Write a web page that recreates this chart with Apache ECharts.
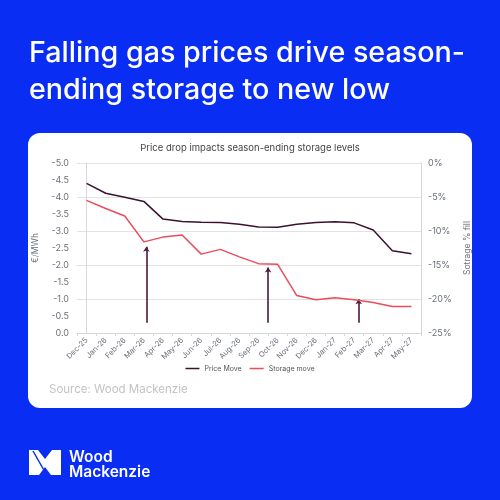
<!DOCTYPE html>
<html>
<head>
<meta charset="utf-8">
<script src="https://cdn.jsdelivr.net/npm/echarts@6/dist/echarts.min.js"></script>
<style>
html,body{margin:0;padding:0;background:#0a2df4;}
#c{width:500px;height:500px;}
</style>
</head>
<body>
<div id="c"></div>
<script>
const categories = ['Dec-25','Jan-26','Feb-26','Mar-26','Apr-26','May-26','Jun-26','Jul-26','Aug-26','Sep-26','Oct-26','Nov-26','Dec-26','Jan-27','Feb-27','Mar-27','Apr-27','May-27'];
const priceMove = [-4.40,-4.11,-3.99,-3.87,-3.35,-3.28,-3.26,-3.25,-3.20,-3.12,-3.11,-3.20,-3.25,-3.27,-3.24,-3.03,-2.42,-2.33];
const storageMove = [-5.5,-6.7,-7.8,-11.6,-10.9,-10.6,-13.4,-12.7,-13.8,-14.8,-14.9,-19.5,-20.1,-19.8,-20.1,-20.5,-21.1,-21.1];
const arrowX = [3.13, 9.5, 14.24];
const arrowFrom = [-0.30, -0.30, -0.30];
const arrowTo = [-2.54, -1.93, -0.99];
const seriesNames = ['Price Move','Storage move'];
const mainTitle = ['Falling gas prices drive season-','ending storage to new low'];
const chartTitle = 'Price drop impacts season-ending storage levels';
const sourceText = 'Source: Wood Mackenzie';

const chart = echarts.init(document.getElementById('c'));
const grey = '#6a6f7a';
chart.setOption({
  backgroundColor: '#0a2df4',
  animation: false,
  textStyle: {fontFamily: 'Inter'},
  graphic: [
    {type:'text', left:29, top:35, style:{text: mainTitle.join('\n'), fill:'#fff', font:'500 28.7px Inter', lineHeight:37}},
    {type:'rect', shape:{x:28, y:133, width:444, height:275, r:12}, style:{fill:'#fff'}, z:-1},
    {type:'text', left:'center', top:143, style:{text: chartTitle, fill:'#444', font:'9.5px Inter'}},
    {type:'text', left:49, top:384, style:{text: sourceText, fill:'#c3c3c3', font:'11.5px Inter'}},
    {type:'polygon', shape:{points:[[29,450],[38,450],[45,459],[52,450],[61,450],[61,475],[51,475],[45,467],[39,475],[29,475]]}, style:{fill:'#fff'}},
    {type:'polyline', shape:{points:[[33,451],[45,472]]}, style:{stroke:'#0a2df4', lineWidth:1.5}},
    {type:'text', left:69, top:449, style:{text:'Wood\nMackenzie', fill:'#fff', font:'600 15.5px Inter', lineHeight:15}}
  ],
  legend: {
    data: seriesNames, bottom: 123, left:'center', icon:'rect', itemWidth:14, itemHeight:1.5, itemGap:8,
    textStyle:{fontSize:7, color:'#555'}
  },
  grid: {left:77, right:79, top:163, bottom:167, containLabel:false},
  xAxis: [
    {type:'category', data:categories, boundaryGap:true,
     axisLine:{lineStyle:{color:'#d8d8d8'}}, axisTick:{show:true, lineStyle:{color:'#d8d8d8'}, length:3},
     axisLabel:{rotate:45, fontSize:7.5, color:grey, margin:6, interval:0}},
    {type:'value', min:-0.5, max:17.5, show:false}
  ],
  yAxis: [
    {type:'value', min:-5, max:0, interval:0.5, inverse:true, name:'€/MWh', nameLocation:'middle', nameGap:25,
     nameTextStyle:{fontSize:8.5, color:grey},
     axisLine:{show:true, lineStyle:{color:'#d8d8d8'}}, axisTick:{show:false}, splitLine:{show:false},
     axisLabel:{fontSize:9, color:grey, margin:8, formatter:v=>v.toFixed(1)}},
    {type:'value', min:-25, max:0, interval:5, position:'right', name:'Sotrage % fill', nameLocation:'middle', nameGap:36,
     nameTextStyle:{fontSize:8.5, color:grey},
     axisLine:{show:true, lineStyle:{color:'#d8d8d8'}}, axisTick:{show:false},
     splitLine:{show:true, lineStyle:{color:'#e2e2e2', width:1}},
     axisLabel:{fontSize:9, color:grey, margin:7, formatter:v=>v+'%'}}
  ],
  series: [
    {name:seriesNames[0], type:'line', data:priceMove, xAxisIndex:0, yAxisIndex:0, symbol:'none',
     lineStyle:{color:'#3b1130', width:1.5}, itemStyle:{color:'#3b1130'}},
    {name:seriesNames[1], type:'line', data:storageMove, xAxisIndex:0, yAxisIndex:1, symbol:'none',
     lineStyle:{color:'#e84d5b', width:1.5}, itemStyle:{color:'#e84d5b'}},
    {type:'lines', coordinateSystem:'cartesian2d', xAxisIndex:1, yAxisIndex:0,
     symbol:['none','arrow'], symbolSize:5,
     lineStyle:{color:'#4a1a3c', width:1.6, opacity:1},
     data: arrowX.map((x,i)=>({coords:[[x, arrowFrom[i]],[x, arrowTo[i]]]}))}
  ]
});
</script>
</body>
</html>
